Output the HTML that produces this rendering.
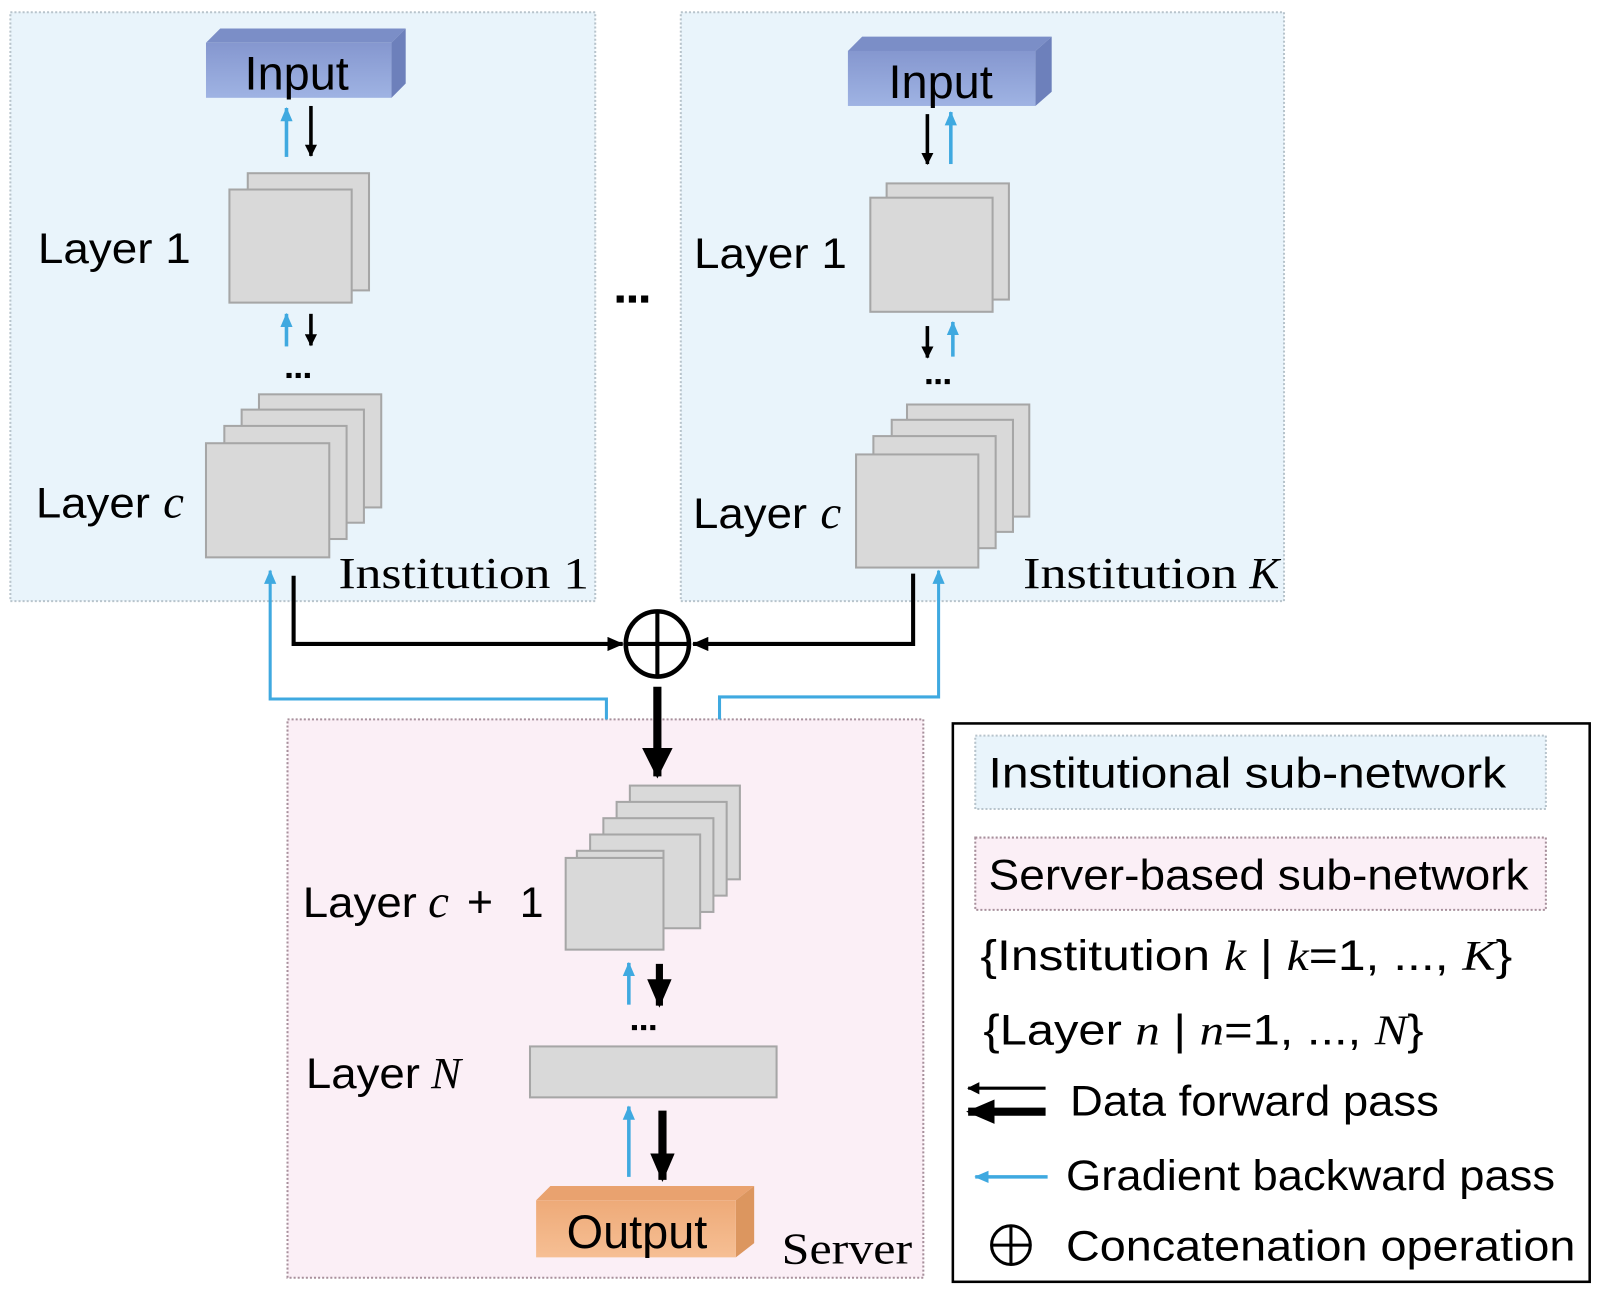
<!DOCTYPE html>
<html><head><meta charset="utf-8"><style>
html,body{margin:0;padding:0;background:#fff;}
svg{display:block;}
.t{font-family:"Liberation Sans",sans-serif;fill:#000;}
.s{font-family:"Liberation Serif",serif;fill:#000;}
</style></head><body>
<svg width="1598" height="1292" viewBox="0 0 1568 1268" xmlns="http://www.w3.org/2000/svg">
<defs>
<marker id="ab" markerWidth="12" markerHeight="12" refX="11" refY="6" orient="auto" markerUnits="userSpaceOnUse"><path d="M0,0 L12,6 L0,12z" fill="#000"/></marker>
<marker id="ab1" markerWidth="16" markerHeight="14" refX="15" refY="7" orient="auto" markerUnits="userSpaceOnUse"><path d="M0,0 L16,7 L0,14z" fill="#000"/></marker>
<marker id="ab2" markerWidth="30" markerHeight="30" refX="28" refY="15" orient="auto" markerUnits="userSpaceOnUse"><path d="M0,0 L30,15 L0,30z" fill="#000"/></marker>
<marker id="ab3" markerWidth="28" markerHeight="24" refX="26" refY="12" orient="auto" markerUnits="userSpaceOnUse"><path d="M0,0 L28,12 L0,24z" fill="#000"/></marker>
<marker id="au" markerWidth="14" markerHeight="12" refX="13" refY="6" orient="auto" markerUnits="userSpaceOnUse"><path d="M0,0 L14,6 L0,12z" fill="#3fa9e0"/></marker>
<linearGradient id="gi" x1="0" y1="0" x2="0" y2="1"><stop offset="0" stop-color="#8597cf"/><stop offset="1" stop-color="#9fb3e3"/></linearGradient>
<linearGradient id="go" x1="0" y1="0" x2="0" y2="1"><stop offset="0" stop-color="#eeaa78"/><stop offset="1" stop-color="#f6bf94"/></linearGradient>
</defs>
<rect x="10" y="12" width="574" height="578" fill="#e9f4fb" stroke="#b8c4cc" stroke-width="2" stroke-dasharray="2,2"/>
<rect x="668" y="12" width="592" height="578" fill="#e9f4fb" stroke="#b8c4cc" stroke-width="2" stroke-dasharray="2,2"/>
<rect x="282" y="706" width="624" height="548" fill="#fbeff6" stroke="#a8909c" stroke-width="2" stroke-dasharray="2,2"/>

<polygon points="202,42 216,28 398,28 384,42" fill="#7b8ec7"/>
<polygon points="384,42 398,28 398,82 384,96" fill="#6d80bb"/>
<rect x="202" y="42" width="182" height="54" fill="url(#gi)"/>
<text class="t" x="291" y="88" font-size="46" text-anchor="middle">Input</text>
<polygon points="832,50 846,36 1032,36 1016,50" fill="#7b8ec7"/>
<polygon points="1016,50 1032,36 1032,90 1016,104" fill="#6d80bb"/>
<rect x="832" y="50" width="184" height="54" fill="url(#gi)"/>
<text class="t" x="923" y="96" font-size="46" text-anchor="middle">Input</text>

<g fill="#d9d9d9" stroke="#a6a6a6" stroke-width="2">
<rect x="243" y="170" width="119" height="115"/>
<rect x="225" y="186" width="120" height="111"/>
<rect x="254" y="387" width="120" height="111"/>
<rect x="237" y="402" width="120" height="111"/>
<rect x="220" y="418" width="120" height="111"/>
<rect x="202" y="435" width="121" height="112"/>
<rect x="870" y="180" width="120" height="114"/>
<rect x="854" y="194" width="120" height="112"/>
<rect x="890" y="397" width="120" height="110"/>
<rect x="875" y="412" width="119" height="110"/>
<rect x="857" y="428" width="120" height="110"/>
<rect x="840" y="446" width="120" height="111"/>
<rect x="618" y="771" width="108" height="92"/>
<rect x="605" y="787" width="108" height="92"/>
<rect x="592" y="803" width="108" height="92"/>
<rect x="579" y="819" width="108" height="92"/>
<rect x="566" y="835" width="85" height="96"/>
<rect x="555" y="842" width="96" height="90"/>
<rect x="520" y="1027" width="242" height="50"/>
</g>

<polygon points="526,1178 540,1164 740,1164 722,1178" fill="#e9a26f"/>
<polygon points="722,1178 740,1164 740,1220 722,1234" fill="#dc965f"/>
<rect x="526" y="1178" width="196" height="56" fill="url(#go)"/>
<text class="t" x="625" y="1225" font-size="46" text-anchor="middle">Output</text>

<text class="t" x="37" y="258" font-size="42" textLength="150" lengthAdjust="spacingAndGlyphs">Layer 1</text>
<text class="t" x="35" y="508" font-size="42" textLength="112" lengthAdjust="spacingAndGlyphs">Layer</text><text class="s" x="160" y="508" font-size="46" font-style="italic">c</text>
<text class="s" x="332" y="577" font-size="44" textLength="246" lengthAdjust="spacingAndGlyphs">Institution 1</text>
<text class="t" x="681" y="263" font-size="42" textLength="150" lengthAdjust="spacingAndGlyphs">Layer 1</text>
<text class="t" x="680" y="518" font-size="42" textLength="112" lengthAdjust="spacingAndGlyphs">Layer</text><text class="s" x="805" y="518" font-size="46" font-style="italic">c</text>
<text class="s" x="1004" y="577" font-size="44" textLength="210" lengthAdjust="spacingAndGlyphs">Institution</text><text class="s" x="1226" y="577" font-size="44" font-style="italic">K</text>
<text class="t" x="297" y="900" font-size="42" textLength="112" lengthAdjust="spacingAndGlyphs">Layer</text><text class="s" x="420" y="900" font-size="46" font-style="italic">c</text><text class="t" x="458" y="900" font-size="44">+</text><text class="t" x="510" y="900" font-size="42">1</text>
<text class="t" x="300" y="1068" font-size="42" textLength="112" lengthAdjust="spacingAndGlyphs">Layer</text><text class="s" x="423" y="1068" font-size="44" font-style="italic">N</text>
<text class="s" x="767" y="1240" font-size="44" textLength="128" lengthAdjust="spacingAndGlyphs">Server</text>

<g fill="#000">
<rect x="605" y="290" width="7" height="7"/><rect x="617" y="290" width="7" height="7"/><rect x="629" y="290" width="7" height="7"/>
<rect x="281" y="366" width="5" height="5"/><rect x="290" y="366" width="5" height="5"/><rect x="299" y="366" width="5" height="5"/>
<rect x="909" y="372" width="5" height="5"/><rect x="918" y="372" width="5" height="5"/><rect x="927" y="372" width="5" height="5"/>
<rect x="620" y="1006" width="5" height="5"/><rect x="629" y="1006" width="5" height="5"/><rect x="638" y="1006" width="5" height="5"/>
</g>

<g stroke-width="3.5">
<line x1="281" y1="154" x2="281" y2="106" stroke="#3fa9e0" marker-end="url(#au)"/>
<line x1="305" y1="104" x2="305" y2="153" stroke="#000" marker-end="url(#ab)"/>
<line x1="281" y1="340" x2="281" y2="308" stroke="#3fa9e0" marker-end="url(#au)"/>
<line x1="305" y1="308" x2="305" y2="339" stroke="#000" marker-end="url(#ab)"/>
<line x1="910" y1="112" x2="910" y2="161" stroke="#000" marker-end="url(#ab)"/>
<line x1="933" y1="161" x2="933" y2="110" stroke="#3fa9e0" marker-end="url(#au)"/>
<line x1="910" y1="320" x2="910" y2="351" stroke="#000" marker-end="url(#ab)"/>
<line x1="935" y1="350" x2="935" y2="316" stroke="#3fa9e0" marker-end="url(#au)"/>
<line x1="617" y1="986" x2="617" y2="945" stroke="#3fa9e0" marker-end="url(#au)"/>
<line x1="617" y1="1155" x2="617" y2="1086" stroke="#3fa9e0" marker-end="url(#au)"/>
</g>
<line x1="647" y1="946" x2="647" y2="987" stroke="#000" stroke-width="7" marker-end="url(#ab3)"/>
<line x1="650" y1="1090" x2="650" y2="1158" stroke="#000" stroke-width="8" marker-end="url(#ab3)"/>

<polyline points="288,565 288,632 611,632" fill="none" stroke="#000" stroke-width="4" marker-end="url(#ab1)"/>
<polyline points="896,563 896,632 680,632" fill="none" stroke="#000" stroke-width="4" marker-end="url(#ab1)"/>
<polyline points="595,706 595,686 265,686 265,560" fill="none" stroke="#3fa9e0" stroke-width="3" marker-end="url(#au)"/>
<polyline points="706,706 706,684 921,684 921,560" fill="none" stroke="#3fa9e0" stroke-width="3" marker-end="url(#au)"/>
<ellipse cx="645" cy="632" rx="31" ry="32" fill="none" stroke="#000" stroke-width="4.5"/>
<line x1="614" y1="632" x2="676" y2="632" stroke="#000" stroke-width="4"/>
<line x1="645" y1="600" x2="645" y2="664" stroke="#000" stroke-width="4"/>
<line x1="645" y1="674" x2="645" y2="762" stroke="#000" stroke-width="8" marker-end="url(#ab2)"/>

<rect x="935" y="710" width="625" height="548" fill="#fff" stroke="#000" stroke-width="2.5"/>
<rect x="957" y="722" width="560" height="72" fill="#e9f4fb" stroke="#b8c4cc" stroke-width="2" stroke-dasharray="2,2"/>
<text class="t" x="970" y="773" font-size="42" textLength="508" lengthAdjust="spacingAndGlyphs">Institutional sub-network</text>
<rect x="957" y="822" width="560" height="71" fill="#fbeff6" stroke="#a8909c" stroke-width="2" stroke-dasharray="2,2"/>
<text class="t" x="970" y="873" font-size="42" textLength="530" lengthAdjust="spacingAndGlyphs">Server-based sub-network</text>
<text class="t" x="962" y="952" font-size="42" textLength="522" lengthAdjust="spacingAndGlyphs">{Institution <tspan class="s" font-style="italic">k</tspan> | <tspan class="s" font-style="italic">k</tspan>=1, ..., <tspan class="s" font-style="italic">K</tspan>}</text>
<text class="t" x="965" y="1025" font-size="42" textLength="432" lengthAdjust="spacingAndGlyphs">{Layer <tspan class="s" font-style="italic">n</tspan> | <tspan class="s" font-style="italic">n</tspan>=1, ..., <tspan class="s" font-style="italic">N</tspan>}</text>
<line x1="1026" y1="1068" x2="950" y2="1068" stroke="#000" stroke-width="3" marker-end="url(#ab)"/>
<line x1="1026" y1="1091" x2="950" y2="1091" stroke="#000" stroke-width="8" marker-end="url(#ab3)"/>
<text class="t" x="1050" y="1095" font-size="42" textLength="362" lengthAdjust="spacingAndGlyphs">Data forward pass</text>
<line x1="1028" y1="1155" x2="957" y2="1155" stroke="#3fa9e0" stroke-width="3.5" marker-end="url(#au)"/>
<text class="t" x="1046" y="1168" font-size="42" textLength="480" lengthAdjust="spacingAndGlyphs">Gradient backward pass</text>
<circle cx="992" cy="1222" r="19" fill="none" stroke="#000" stroke-width="3"/>
<line x1="973" y1="1222" x2="1011" y2="1222" stroke="#000" stroke-width="3"/>
<line x1="992" y1="1203" x2="992" y2="1241" stroke="#000" stroke-width="3"/>
<text class="t" x="1046" y="1237" font-size="42" textLength="500" lengthAdjust="spacingAndGlyphs">Concatenation operation</text>
</svg>
</body></html>
